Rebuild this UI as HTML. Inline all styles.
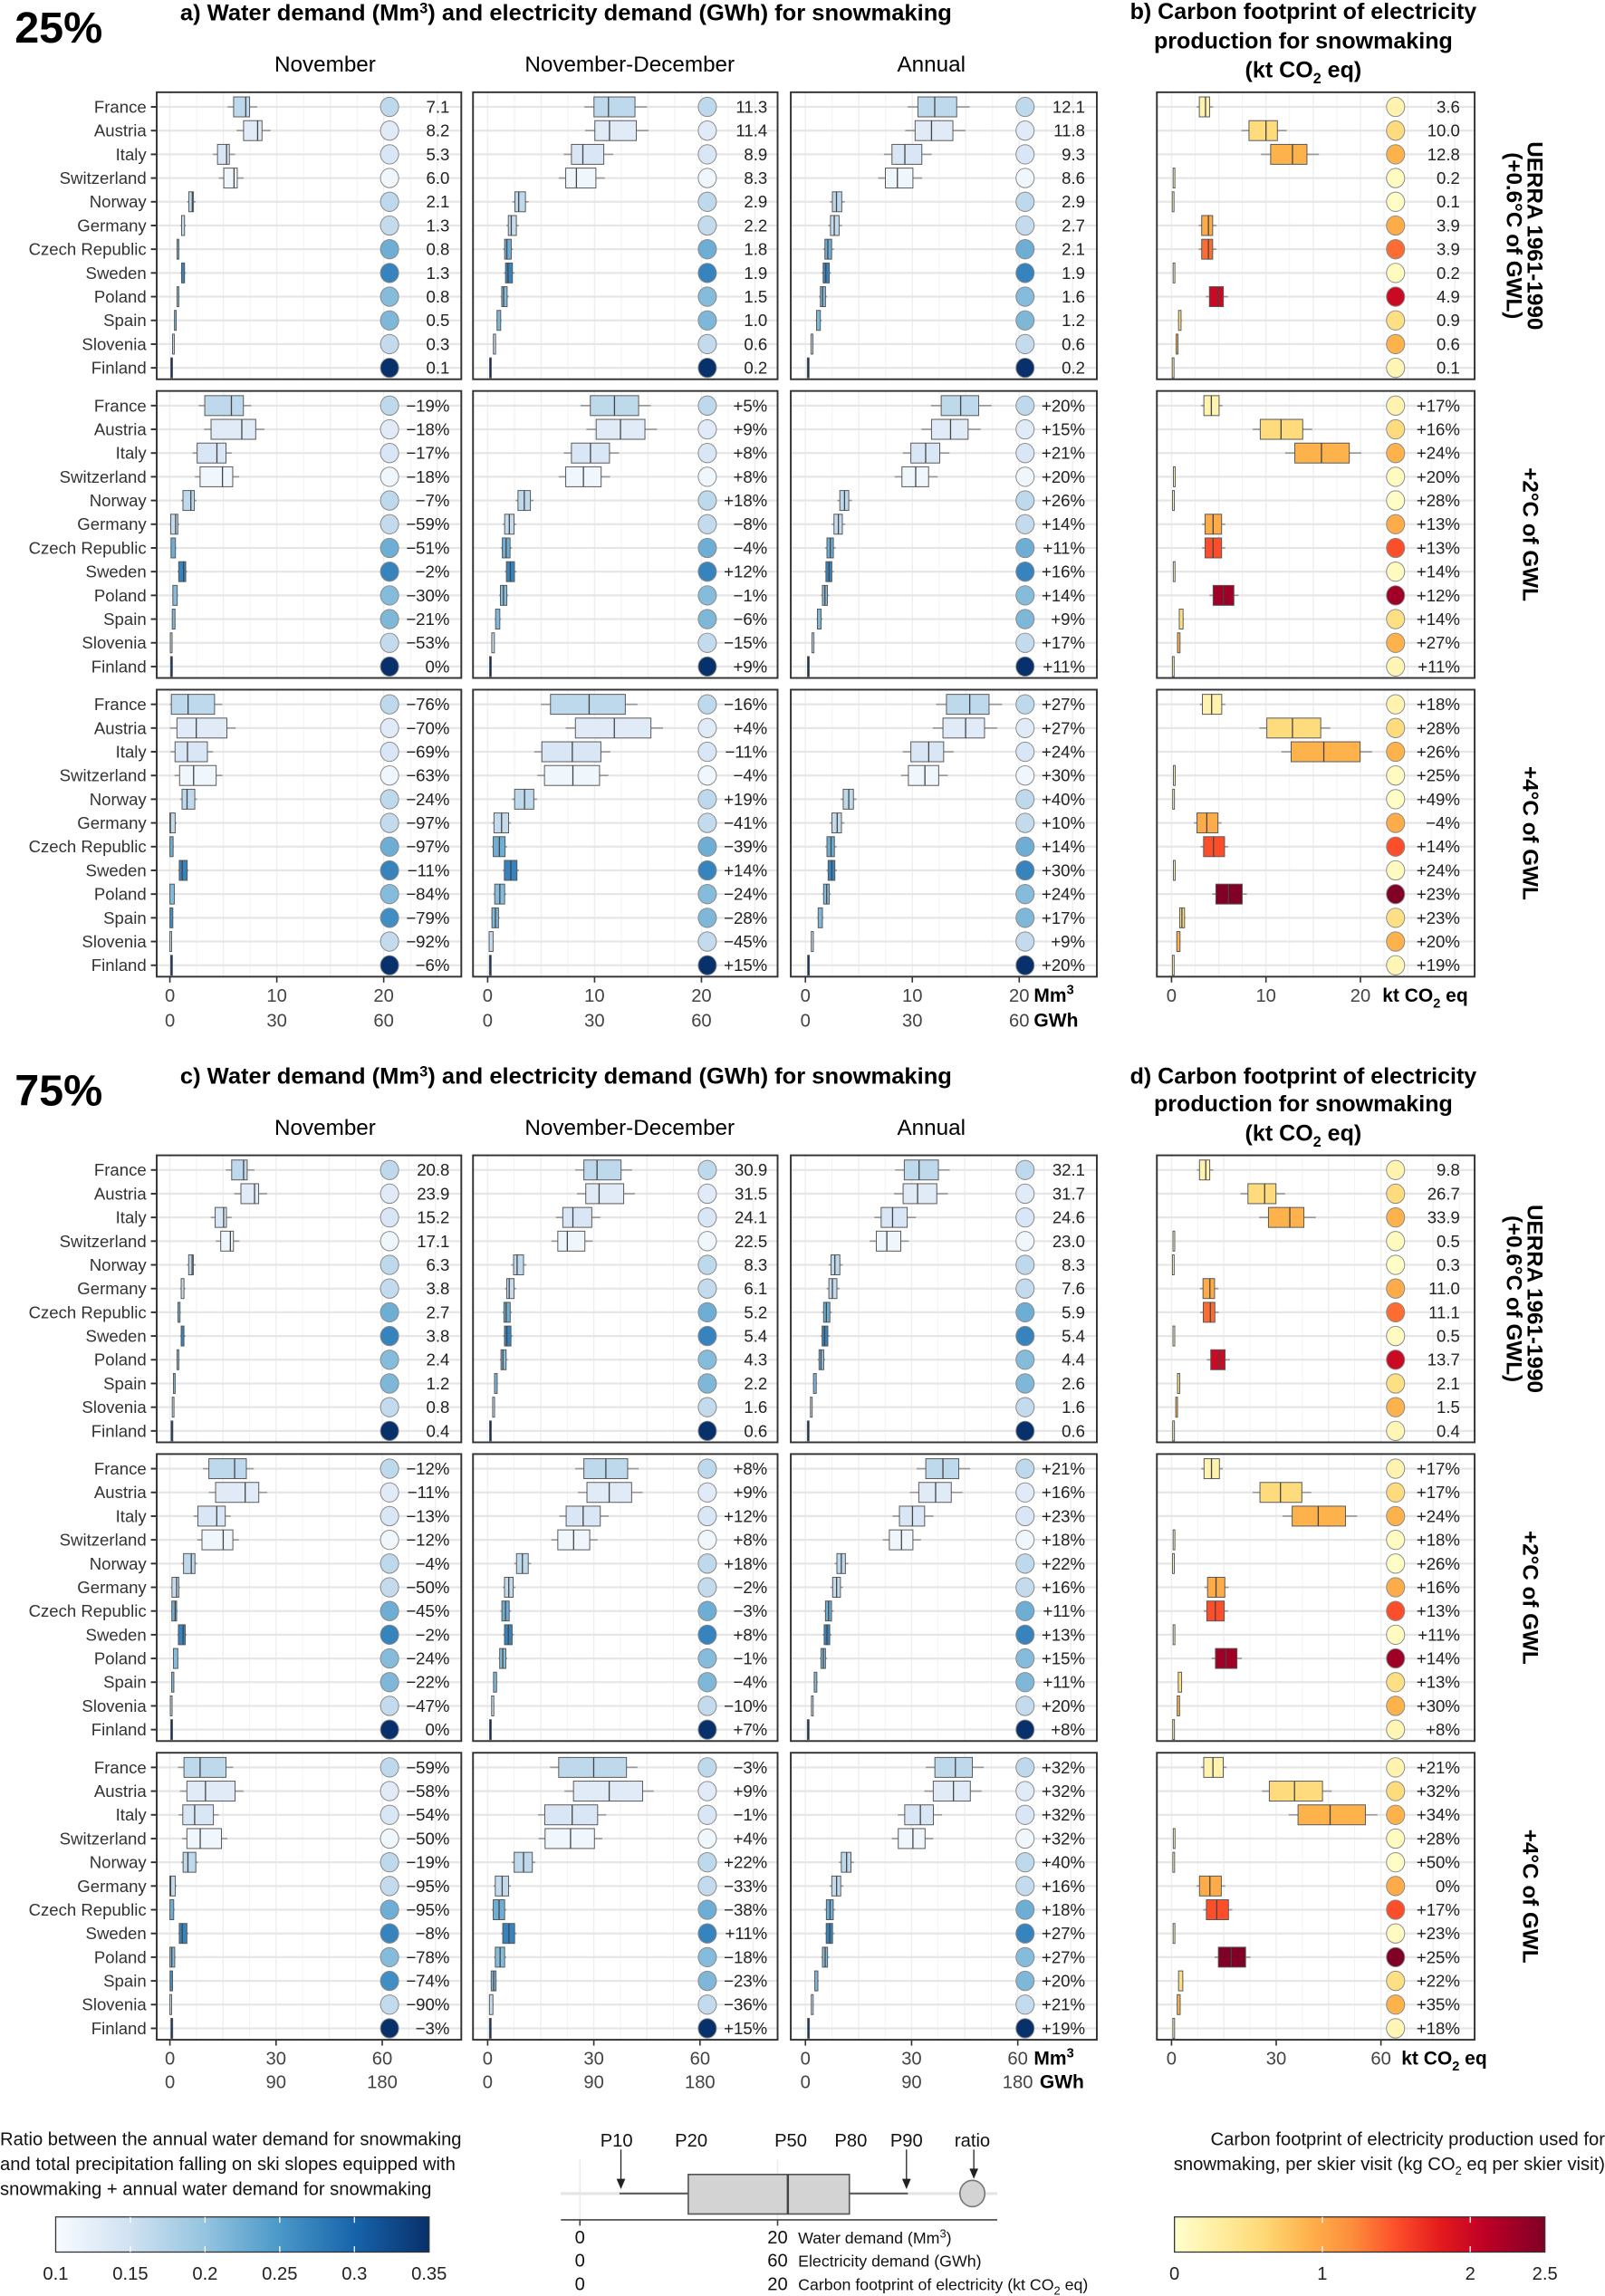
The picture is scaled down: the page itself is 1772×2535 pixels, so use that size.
<!DOCTYPE html>
<html><head><meta charset="utf-8">
<style>
html,body{margin:0;padding:0;background:#fff;}
svg{display:block;font-family:"Liberation Sans",sans-serif;}
</style></head>
<body>
<svg id="s" xmlns="http://www.w3.org/2000/svg" width="1772" height="2535" viewBox="0 0 1096 1568">
<rect width="1096" height="1568" fill="#fff"/>
<defs>
<linearGradient id="gb" x1="0" x2="1" y1="0" y2="0">
<stop offset="0" stop-color="#f7fbff"/><stop offset="0.2" stop-color="#d0e1f2"/><stop offset="0.4" stop-color="#94c4df"/><stop offset="0.6" stop-color="#4a98c9"/><stop offset="0.8" stop-color="#1764ab"/><stop offset="1" stop-color="#08306b"/>
</linearGradient>
<linearGradient id="gy" x1="0" x2="1" y1="0" y2="0">
<stop offset="0" stop-color="#ffffcc"/><stop offset="0.12" stop-color="#ffeda0"/><stop offset="0.24" stop-color="#fed976"/><stop offset="0.36" stop-color="#feb24c"/><stop offset="0.48" stop-color="#fd8d3c"/><stop offset="0.6" stop-color="#fc4e2a"/><stop offset="0.72" stop-color="#e31a1c"/><stop offset="0.84" stop-color="#bd0026"/><stop offset="1" stop-color="#800026"/>
</linearGradient>
</defs>
<g id="g"></g>
<!-- Titles -->
<text x="10" y="29" font-size="30" font-weight="bold">25%</text>
<text x="123" y="14" font-size="15.5" font-weight="bold" textLength="527" lengthAdjust="spacingAndGlyphs">a) Water demand (Mm<tspan dy="-5" font-size="10">3</tspan><tspan dy="5">) and electricity demand (GWh) for snowmaking</tspan></text>
<text x="222" y="49" font-size="15" text-anchor="middle">November</text>
<text x="430" y="49" font-size="15" text-anchor="middle">November-December</text>
<text x="636" y="49" font-size="15" text-anchor="middle">Annual</text>
<text x="890" y="13" font-size="15.5" font-weight="bold" text-anchor="middle">b) Carbon footprint of electricity</text>
<text x="890" y="33" font-size="15.5" font-weight="bold" text-anchor="middle">production for snowmaking</text>
<text x="890" y="53" font-size="15.5" font-weight="bold" text-anchor="middle">(kt CO<tspan dy="4" font-size="10">2</tspan><tspan dy="-4"> eq)</tspan></text>

<text x="10" y="755" font-size="30" font-weight="bold">75%</text>
<text x="123" y="740" font-size="15.5" font-weight="bold" textLength="527" lengthAdjust="spacingAndGlyphs">c) Water demand (Mm<tspan dy="-5" font-size="10">3</tspan><tspan dy="5">) and electricity demand (GWh) for snowmaking</tspan></text>
<text x="222" y="775" font-size="15" text-anchor="middle">November</text>
<text x="430" y="775" font-size="15" text-anchor="middle">November-December</text>
<text x="636" y="775" font-size="15" text-anchor="middle">Annual</text>
<text x="890" y="740" font-size="15.5" font-weight="bold" text-anchor="middle">d) Carbon footprint of electricity</text>
<text x="890" y="759" font-size="15.5" font-weight="bold" text-anchor="middle">production for snowmaking</text>
<text x="890" y="779" font-size="15.5" font-weight="bold" text-anchor="middle">(kt CO<tspan dy="4" font-size="10">2</tspan><tspan dy="-4"> eq)</tspan></text>

<!-- Rotated labels -->
<g font-size="15" font-weight="bold" text-anchor="middle">
<text transform="translate(1043,161) rotate(90)">UERRA 1961-1990</text>
<text transform="translate(1029,161) rotate(90)">(+0.6°C of GWL)</text>
<text transform="translate(1040,365) rotate(90)">+2°C of GWL</text>
<text transform="translate(1040,569) rotate(90)">+4°C of GWL</text>
<text transform="translate(1043,887) rotate(90)">UERRA 1961-1990</text>
<text transform="translate(1029,887) rotate(90)">(+0.6°C of GWL)</text>
<text transform="translate(1040,1091) rotate(90)">+2°C of GWL</text>
<text transform="translate(1040,1295) rotate(90)">+4°C of GWL</text>
</g>

<!-- Axis unit labels -->
<g font-size="13" font-weight="bold">
<text x="706" y="684">Mm<tspan dy="-5" font-size="9">3</tspan></text>
<text x="706" y="701">GWh</text>
<text x="944" y="684">kt CO<tspan dy="4" font-size="9">2</tspan><tspan dy="-4"> eq</tspan></text>
<text x="706" y="1410">Mm<tspan dy="-5" font-size="9">3</tspan></text>
<text x="710" y="1426">GWh</text>
<text x="957" y="1410">kt CO<tspan dy="4" font-size="9">2</tspan><tspan dy="-4"> eq</tspan></text>
</g>

<!-- Legend -->
<g font-size="12.5" fill="#111">
<text x="0" y="1465">Ratio between the annual water demand for snowmaking</text>
<text x="0" y="1482">and total precipitation falling on ski slopes equipped with</text>
<text x="0" y="1499">snowmaking + annual water demand for snowmaking</text>
<text x="1096" y="1465" text-anchor="end">Carbon footprint of electricity production used for</text>
<text x="1096" y="1482" text-anchor="end">snowmaking, per skier visit (kg CO<tspan dy="3" font-size="8">2</tspan><tspan dy="-3"> eq per skier visit)</tspan></text>
</g>
<rect x="38" y="1514" width="255" height="24" fill="url(#gb)" stroke="#333" stroke-width="0.8"/>
<g stroke="#fff" stroke-width="0.8"><line x1="89" x2="89" y1="1514" y2="1518"/><line x1="140" x2="140" y1="1514" y2="1518"/><line x1="191" x2="191" y1="1514" y2="1518"/><line x1="242" x2="242" y1="1514" y2="1518"/>
<line x1="89" x2="89" y1="1534" y2="1538"/><line x1="140" x2="140" y1="1534" y2="1538"/><line x1="191" x2="191" y1="1534" y2="1538"/><line x1="242" x2="242" y1="1534" y2="1538"/></g>
<g font-size="12.5" text-anchor="middle" fill="#222">
<text x="38" y="1557">0.1</text><text x="89" y="1557">0.15</text><text x="140" y="1557">0.2</text><text x="191" y="1557">0.25</text><text x="242" y="1557">0.3</text><text x="293" y="1557">0.35</text>
</g>
<rect x="802" y="1514" width="253" height="24" fill="url(#gy)" stroke="#333" stroke-width="0.8"/>
<g stroke="#fff" stroke-width="0.8"><line x1="903" x2="903" y1="1514" y2="1518"/><line x1="1004" x2="1004" y1="1514" y2="1518"/><line x1="903" x2="903" y1="1534" y2="1538"/><line x1="1004" x2="1004" y1="1534" y2="1538"/></g>
<g font-size="12.5" text-anchor="middle" fill="#222">
<text x="802" y="1557">0</text><text x="903" y="1557">1</text><text x="1004" y="1557">2</text><text x="1055" y="1557">2.5</text>
</g>

<!-- center legend -->
<line x1="396" x2="396" y1="1475" y2="1516" stroke="#ececec"/>
<line x1="531" x2="531" y1="1475" y2="1516" stroke="#ececec"/>
<line x1="383" x2="681" y1="1498" y2="1498" stroke="#e5e5e5" stroke-width="2"/>
<line x1="423" x2="620" y1="1498" y2="1498" stroke="#555" stroke-width="1.2"/>
<rect x="470" y="1485" width="110" height="27" fill="#d3d3d3" stroke="#555" stroke-width="1"/>
<line x1="538" x2="538" y1="1485" y2="1512" stroke="#444" stroke-width="1.5"/>
<ellipse cx="664" cy="1498" rx="8.5" ry="9" fill="#d3d3d3" stroke="#777"/>
<line x1="383" x2="681" y1="1516" y2="1516" stroke="#444" stroke-width="1"/>
<line x1="396" x2="396" y1="1516" y2="1520" stroke="#444"/>
<line x1="531" x2="531" y1="1516" y2="1520" stroke="#444"/>
<g stroke="#222" stroke-width="0.8">
<line x1="424" x2="424" y1="1468" y2="1494"/><line x1="619" x2="619" y1="1468" y2="1494"/><line x1="665" x2="665" y1="1468" y2="1487"/></g>
<g fill="#222"><path d="M421,1488 L424,1495 L427,1488Z"/><path d="M616,1488 L619,1495 L622,1488Z"/><path d="M662,1481 L665,1488 L668,1481Z"/></g>
<g font-size="12.5" fill="#111" text-anchor="middle">
<text x="421" y="1466">P10</text><text x="472" y="1466">P20</text><text x="540" y="1466">P50</text><text x="581" y="1466">P80</text><text x="619" y="1466">P90</text><text x="664" y="1466">ratio</text>
<text x="396" y="1532">0</text><text x="396" y="1548">0</text><text x="396" y="1564">0</text>
<text x="531" y="1532">20</text><text x="531" y="1548">60</text><text x="531" y="1564">20</text>
</g>
<g font-size="11" fill="#111">
<text x="545" y="1532">Water demand (Mm<tspan dy="-4" font-size="8">3</tspan><tspan dy="4">)</tspan></text>
<text x="545" y="1548">Electricity demand (GWh)</text>
<text x="545" y="1564">Carbon footprint of electricity (kt CO<tspan dy="3" font-size="8">2</tspan><tspan dy="-3"> eq)</tspan></text>
</g>
</svg>
<script>
const C=["France","Austria","Italy","Switzerland","Norway","Germany","Czech Republic","Sweden","Poland","Spain","Slovenia","Finland"];
const S=[
{ys:[63,267,471],ws:7.3,cs:6.45,wstep:5,cstep:5,
 base:[[7.1,8.2,5.3,6.0,2.1,1.3,0.8,1.3,0.8,0.5,0.3,0.1],[11.3,11.4,8.9,8.3,2.9,2.2,1.8,1.9,1.5,1.0,0.6,0.2],[12.1,11.8,9.3,8.6,2.9,2.7,2.1,1.9,1.6,1.2,0.6,0.2],[3.6,10.0,12.8,0.2,0.1,3.9,3.9,0.2,4.9,0.9,0.6,0.1]],
 p2:[[-19,-18,-17,-18,-7,-59,-51,-2,-30,-21,-53,0],[5,9,8,8,18,-8,-4,12,-1,-6,-15,9],[20,15,21,20,26,14,11,16,14,9,17,11],[17,16,24,20,28,13,13,14,12,14,27,11]],
 p4:[[-76,-70,-69,-63,-24,-97,-97,-11,-84,-79,-92,-6],[-16,4,-11,-4,19,-41,-39,14,-24,-28,-45,15],[27,27,24,30,40,10,14,30,24,17,9,20],[18,28,26,25,49,-4,14,24,23,23,20,19]],
 tl:[["0","10","20"],["0","30","60"]],ctl:["0","10","20"],axY:[684,701],tk:10},
{ys:[789,993,1197],ws:2.417,cs:2.383,wstep:15,cstep:15,
 base:[[20.8,23.9,15.2,17.1,6.3,3.8,2.7,3.8,2.4,1.2,0.8,0.4],[30.9,31.5,24.1,22.5,8.3,6.1,5.2,5.4,4.3,2.2,1.6,0.6],[32.1,31.7,24.6,23.0,8.3,7.6,5.9,5.4,4.4,2.6,1.6,0.6],[9.8,26.7,33.9,0.5,0.3,11.0,11.1,0.5,13.7,2.1,1.5,0.4]],
 p2:[[-12,-11,-13,-12,-4,-50,-45,-2,-24,-22,-47,0],[8,9,12,8,18,-2,-3,8,-1,-4,-10,7],[21,16,23,18,22,16,11,13,15,11,20,8],[17,17,24,18,26,16,13,11,14,13,30,8]],
 p4:[[-59,-58,-54,-50,-19,-95,-95,-8,-78,-74,-90,-3],[-3,9,-1,4,22,-33,-38,11,-18,-23,-36,15],[32,32,32,32,40,16,18,27,27,20,21,19],[21,32,34,28,50,0,17,23,25,22,35,18]],
 tl:[["0","30","60"],["0","90","180"]],ctl:["0","30","60"],axY:[1410,1426],tk:30}
];
const COLS=[{x0:107,x1:315,z:116,cx:266,tx:307},{x0:323,x1:531,z:333,cx:483,tx:524},{x0:540,x1:749,z:550,cx:700,tx:741},{x0:790,x1:1007,z:800,cx:953,tx:997}];
const SP=[[[.16,.05],[.12,.22],[.13,.17],[.18,.12]],[[.35,.16],[.2,.2],[.15,.14],[.22,.23]],[[.22,.35],[.32,.3],[.18,.15],[.27,.3]]];
const RL=[0.165,0.13,0.14,0.11,0.165,0.16,0.225,0.27,0.21,0.215,0.16,0.35];
const CL=[0.2,0.55,0.9,0.08,0.04,0.95,1.35,0.08,2.0,0.5,0.9,0.15];
function itp(st,v){if(v<=st[0][0])return st[0][1];for(let i=1;i<st.length;i++){if(v<=st[i][0]){const a=st[i-1],b=st[i],t=(v-a[0])/(b[0]-a[0]);return a[1].map((c,k)=>Math.round(c+(b[1][k]-c)*t));}}return st[st.length-1][1];}
const BS=[[0.1,[247,251,255]],[0.15,[208,225,242]],[0.2,[148,196,223]],[0.25,[74,152,201]],[0.3,[23,100,171]],[0.35,[8,48,107]]];
const YS=[[0,[255,255,204]],[0.3,[255,237,160]],[0.6,[254,217,118]],[0.9,[254,178,76]],[1.2,[253,141,60]],[1.5,[252,78,42]],[1.8,[227,26,28]],[2.1,[189,0,38]],[2.5,[128,0,38]]];
const rgb=a=>`rgb(${a[0]},${a[1]},${a[2]})`;
let h="";
function L(x1,y1,x2,y2,s,w){h+=`<line x1="${x1}" y1="${y1}" x2="${x2}" y2="${y2}" stroke="${s}" stroke-width="${w}"/>`;}
function T(x,y,t,a,fs,fill){h+=`<text x="${x}" y="${y}" font-size="${fs}" text-anchor="${a}" fill="${fill||'#222'}">${t}</text>`;}
S.forEach(sec=>{
 sec.ys.forEach((y0,bi)=>{
  COLS.forEach((col,ci)=>{
   const isC=ci==3, sc=isC?sec.cs:sec.ws, step=isC?sec.cstep:sec.wstep;
   for(let v=0;;v+=step/2){const x=col.z+v*sc;if(x>col.x1)break;L(x.toFixed(1),y0,x.toFixed(1),y0+196,"#efefef",v%step==0?0.9:0.5);}
   for(let i=0;i<12;i++){const y=y0+10+i*16.2;L(col.x0,y.toFixed(1),col.x1,y.toFixed(1),"#e6e6e6",1.4);}
   for(let i=0;i<12;i++){
    const y=y0+10+i*16.2, B=sec.base[ci][i];
    let m,lab;
    if(bi==0){m=B;lab=B.toFixed(1);}
    else{const p=(bi==1?sec.p2:sec.p4)[ci][i];m=B*(1+p/100);
     lab=(p>0?"+"+p:p<0?"−"+(-p):"0")+"%";}
    const sp=SP[bi][ci];
    let q1=Math.max(0,m-sp[0]*B),q3=m+sp[1]*B,lo=Math.max(0,q1-0.08*B),hi=q3+0.1*B;
    let col_;
    if(isC){let v=CL[i];if(i==8)v=bi==0?2.0:bi==1?2.3:2.5;if(i==6&&bi>0)v=1.5;col_=rgb(itp(YS,v));}
    else{let v=RL[i];if(i==9&&bi==2&&ci==0)v=0.26;col_=rgb(itp(BS,v));}
    const X=v=>col.z+v*sc;
    L(X(lo).toFixed(1),y.toFixed(1),X(hi).toFixed(1),y.toFixed(1),"#999",1);
    let bx=X(q1),bw=Math.max(1.2,X(q3)-X(q1));
    h+=`<rect x="${bx.toFixed(1)}" y="${(y-6.8).toFixed(1)}" width="${bw.toFixed(1)}" height="13.6" fill="${col_}" stroke="#555" stroke-width="0.6"/>`;
    if(bw>3)L(X(m).toFixed(1),(y-6.8).toFixed(1),X(m).toFixed(1),(y+6.8).toFixed(1),"#444",0.8);
    h+=`<ellipse cx="${col.cx}" cy="${y.toFixed(1)}" rx="6.2" ry="6.6" fill="${col_}" stroke="#888" stroke-width="0.6"/>`;
    T(col.tx,(y+4).toFixed(1),lab,"end",11.5);
    if(ci==0){T(100,(y+4).toFixed(1),C[i],"end",11.5,"#333");L(103,y.toFixed(1),107,y.toFixed(1),"#333",1.2);}
   }
   h+=`<rect x="${col.x0}" y="${y0}" width="${col.x1-col.x0}" height="196" fill="none" stroke="#333" stroke-width="1.2"/>`;
   if(bi==2){
    const yb=y0+196;
    for(let k=0;k<3;k++){
     const v=k*sec.tk;
     const x=col.z+v*sc;
     L(x.toFixed(1),yb,x.toFixed(1),yb+4,"#333",1);
     if(isC){T(x.toFixed(1),sec.axY[0],sec.ctl[k],"middle",12.5,"#444");}
     else{T(x.toFixed(1),sec.axY[0],sec.tl[0][k],"middle",12.5,"#444");T(x.toFixed(1),sec.axY[1],sec.tl[1][k],"middle",12.5,"#444");}
    }
   }
  });
 });
});
document.getElementById("g").innerHTML=h;
</script>
</body></html>
